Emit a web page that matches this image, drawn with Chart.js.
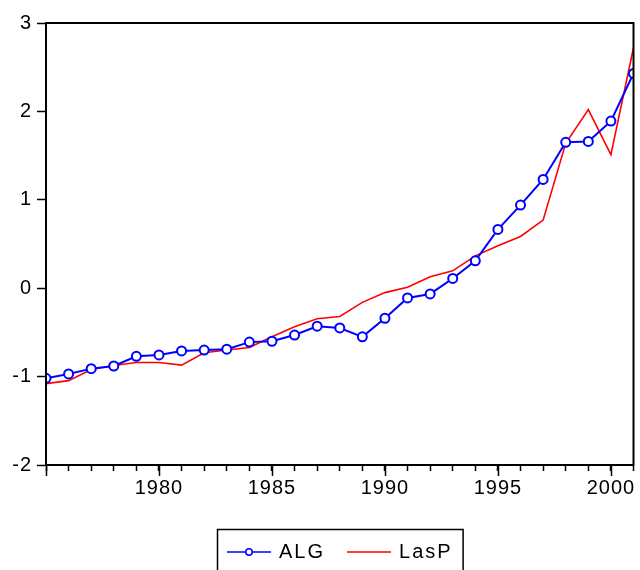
<!DOCTYPE html>
<html>
<head>
<meta charset="utf-8">
<script src="https://cdn.jsdelivr.net/npm/chart.js@4/dist/chart.umd.min.js"></script>
<style>
  html, body { margin: 0; padding: 0; background: #fff; }
  #wrap { width: 640px; height: 570px; position: relative; }
</style>
</head>
<body>
<div id="wrap"><canvas id="chart"></canvas></div>
<script>
// data
const years = [1975, 1976, 1977, 1978, 1979, 1980, 1981, 1982, 1983, 1984, 1985, 1986, 1987, 1988,
  1989, 1990, 1991, 1992, 1993, 1994, 1995, 1996, 1997, 1998, 1999, 2000, 2001];
const alg = [-1.02, -0.97, -0.91, -0.88, -0.77, -0.755, -0.71, -0.70, -0.69, -0.61, -0.60, -0.53, -0.43, -0.45,
  -0.55, -0.34, -0.11, -0.065, 0.11, 0.31, 0.665, 0.94, 1.23, 1.65, 1.66, 1.89, 2.43];
const lasp = [-1.08, -1.046, -0.92, -0.875, -0.84, -0.84, -0.87, -0.73, -0.70, -0.67, -0.55, -0.435, -0.345, -0.32,
  -0.16, -0.05, 0.01, 0.13, 0.196, 0.366, 0.48, 0.585, 0.77, 1.64, 2.02, 1.51, 2.72];
const xTickLabels = [1980, 1985, 1990, 1995, 2000];
const xMajorTicks = [1975, 1980, 1985, 1990, 1995, 2000];
const yTicks = [-2, -1, 0, 1, 2, 3];

const FONT = '"Liberation Sans", Arial, sans-serif';

// box round the plot, longer major ticks, and the legend
const framePlugin = {
  id: 'frame',
  beforeDraw(chart) {
    chart.ctx.letterSpacing = '1px';
  },
  afterDraw(chart) {
    const ctx = chart.ctx;
    const a = chart.chartArea;
    const xs = chart.scales.x;
    ctx.save();
    ctx.letterSpacing = '0px';
    ctx.strokeStyle = '#000';
    ctx.lineWidth = 1.5;
    xMajorTicks.forEach(v => {
      const px = Math.round(xs.getPixelForValue(v)) + 0.5;
      ctx.beginPath();
      ctx.moveTo(px, a.bottom);
      ctx.lineTo(px, a.bottom + 11);
      ctx.stroke();
    });
    ctx.lineWidth = 2;
    ctx.strokeRect(a.left, a.top, a.right - a.left, a.bottom - a.top);

    // legend
    ctx.font = '20px ' + FONT;
    ctx.letterSpacing = '2px';
    const ds = chart.data.datasets;
    const pad = 10, lineW = 44, gap = 8, itemGap = 22;
    const widths = ds.map(d => ctx.measureText(d.label).width);
    let total = pad * 2 + itemGap * (ds.length - 1);
    widths.forEach(w => { total += lineW + gap + w; });
    const cx = (a.left + a.right) / 2;
    const top = a.bottom + 64;
    let x = Math.round(cx - total / 2);
    ctx.lineWidth = 1.5;
    ctx.strokeStyle = '#000';
    ctx.strokeRect(x + 0.5, top + 0.5, total, 60);
    const ly = top + 23;
    x += pad;
    ds.forEach((d, i) => {
      ctx.strokeStyle = d.borderColor;
      ctx.lineWidth = 1.5;
      ctx.beginPath();
      ctx.moveTo(x, ly);
      ctx.lineTo(x + lineW, ly);
      ctx.stroke();
      if (d.pointRadius > 0) {
        ctx.beginPath();
        ctx.arc(x + lineW / 2, ly, 3.2, 0, Math.PI * 2);
        ctx.fillStyle = '#fff';
        ctx.fill();
        ctx.stroke();
      }
      ctx.fillStyle = '#000';
      ctx.textBaseline = 'middle';
      ctx.textAlign = 'left';
      ctx.fillText(d.label, x + lineW + gap, ly);
      x += lineW + gap + widths[i] + itemGap;
    });
    ctx.restore();
  }
};

const ctx = document.getElementById('chart').getContext('2d');
const chart = new Chart(ctx, {
  type: 'line',
  data: {
    datasets: [
      {
        label: 'ALG',
        data: years.map((y, i) => ({ x: y, y: alg[i] })),
        borderColor: '#0000ff',
        borderWidth: 2,
        pointRadius: 4.5,
        pointBorderWidth: 2,
        pointBackgroundColor: '#ffffff',
        pointBorderColor: '#0000ff',
        tension: 0
      },
      {
        label: 'LasP',
        data: years.map((y, i) => ({ x: y, y: lasp[i] })),
        borderColor: '#ff0000',
        borderWidth: 1.6,
        pointRadius: 0,
        tension: 0
      }
    ]
  },
  options: {
    responsive: true,
    maintainAspectRatio: false,
    animation: false,
    events: [],
    layout: { padding: { top: 23, right: 5, bottom: 65, left: 0 } },
    plugins: {
      legend: { display: false },
      tooltip: { enabled: false }
    },
    scales: {
      x: {
        type: 'linear',
        min: 1975,
        max: 2001,
        afterFit: s => { s.height = 40; s.paddingLeft = 0; s.paddingRight = 0; },
        afterBuildTicks: s => { s.ticks = years.map(v => ({ value: v })); },
        ticks: {
          autoSkip: false,
          maxRotation: 0,
          padding: 5,
          color: '#000',
          font: { size: 20, family: FONT },
          callback: v => xTickLabels.includes(v) ? String(v) : ''
        },
        grid: { drawOnChartArea: false, tickLength: 6, tickColor: '#000', tickWidth: 1.5 },
        border: { color: '#000', width: 2 }
      },
      y: {
        min: -2,
        max: 3,
        afterFit: s => { s.width = 46; },
        afterBuildTicks: s => { s.ticks = yTicks.map(v => ({ value: v })); },
        ticks: {
          padding: 5,
          color: '#000',
          font: { size: 20, family: FONT },
          callback: v => String(v)
        },
        grid: { drawOnChartArea: false, tickLength: 9, tickColor: '#000', tickWidth: 1.5 },
        border: { color: '#000', width: 2 }
      }
    }
  },
  plugins: [framePlugin]
});
</script>
</body>
</html>
